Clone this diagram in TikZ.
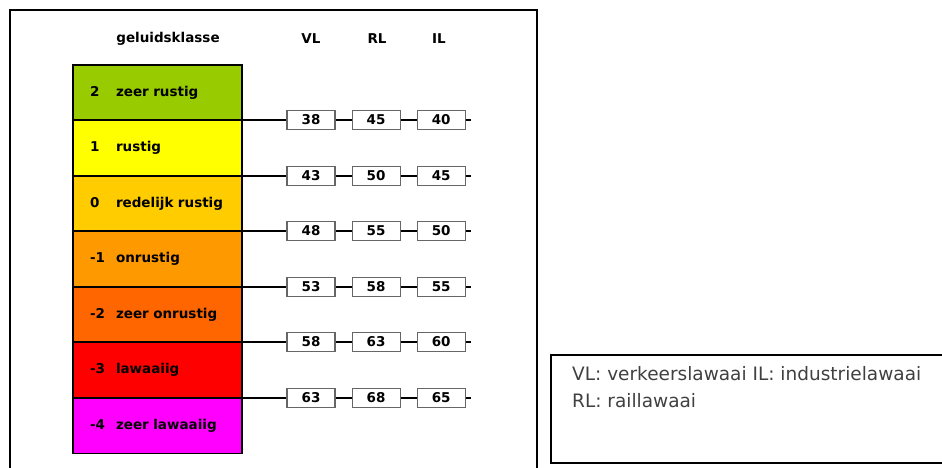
\documentclass[tikz,border=0pt]{standalone}
\usepackage{fontspec}
\setmainfont{DejaVu Sans}
\usepackage{xcolor}
\usepackage{tikz}
\usetikzlibrary{positioning}

\definecolor{groen}{HTML}{99CC00}
\definecolor{geel}{HTML}{FFFF00}
\definecolor{goud}{HTML}{FFCC00}
\definecolor{oranje}{HTML}{FF9900}
\definecolor{donkeroranje}{HTML}{FF6600}
\definecolor{rood}{HTML}{FF0000}
\definecolor{paars}{HTML}{FF00FF}

\begin{document}
\begin{tikzpicture}[x=1pt, y=-1pt,
    klasse/.style={draw, line width=1.8pt, outer sep=0pt, anchor=north west, minimum width=169pt, minimum height=55.5pt, inner sep=0pt, text width=135pt, align=left, font=\bfseries\fontsize{13.5}{16}\selectfont},
    waarde/.style={draw=black!60, line width=1.1pt, fill=white, minimum width=48pt, minimum height=19.5pt, inner sep=0pt, font=\bfseries\fontsize{13.5}{16}\selectfont},
    kop/.style={font=\bfseries\fontsize{13.5}{16}\selectfont},
    uitleg/.style={anchor=base west, inner sep=0pt, text=black!75, font=\fontsize{18.5}{22}\selectfont}]
    \useasboundingbox (0,0) rectangle (942,467);
    \clip (0,0) rectangle (942,467);
    % kader
    \draw[line width=1.8pt] (10,480) -- (10,10) -- (537,10) -- (537,480);
    % koppen
    \node[kop] (kop) at (168,39) {geluidsklasse};
    \node[kop] (vl) at (311,39) {VL};
    \node[kop] (rl) at (377,39) {RL};
    \node[kop] (il) at (439,39) {IL};
    % klassen
    \foreach \i/\kleur/\nr/\naam in {1/groen/2/zeer rustig, 2/geel/1/rustig, 3/goud/0/redelijk rustig, 4/oranje/-1/onrustig, 5/donkeroranje/-2/zeer onrustig, 6/rood/-3/lawaaiig, 7/paars/-4/zeer lawaaiig} {
      \pgfmathtruncatemacro\y{65+55.5*(\i-1)}
      \node[klasse, fill=\kleur] (k\i) at (73,\y) {\makebox[26pt][l]{\nr}\naam};
    }
    % grenswaarden
    \foreach \i/\a/\b/\c in {1/38/45/40, 2/43/50/45, 3/48/55/50, 4/53/58/55, 5/58/63/60, 6/63/68/65} {
      \pgfmathtruncatemacro\y{65+55.5*\i}
      \node[waarde] (vl\i) at (311,\y) {\a};
      \node[waarde, right=16pt of vl\i] (rl\i) {\b};
      \node[waarde, right=16pt of rl\i] (il\i) {\c};
      \coordinate (e\i) at (471,\y);
      \draw[line width=1.8pt] (k\i.east |- vl\i) -- (vl\i) (vl\i) -- (rl\i) (rl\i) -- (il\i) (il\i) -- (e\i);
    }
    % legenda
    \draw[line width=1.4pt] (950,355) -- (551,355) -- (551,463) -- (950,463);
    \node[uitleg] (uitleg1) at (572,380) {VL: verkeerslawaai IL: industrielawaai};
    \node[uitleg] (uitleg2) at (572,407) {RL: raillawaai};
  \end{tikzpicture}
\end{document}
